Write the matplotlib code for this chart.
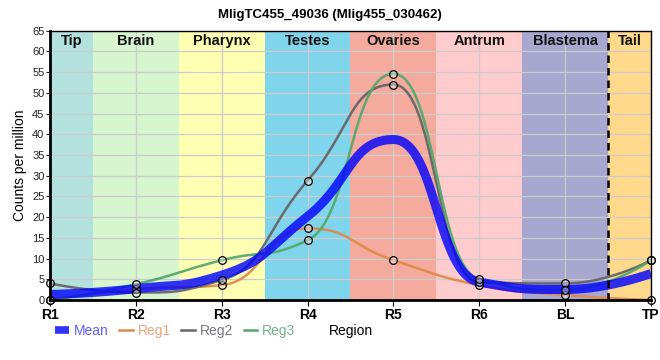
import numpy as np
import matplotlib
matplotlib.use("Agg")
import matplotlib.pyplot as plt
from matplotlib.lines import Line2D

plt.rcParams['font.family'] = ['Liberation Sans', 'DejaVu Sans']

title = "MligTC455_49036 (Mlig455_030462)"
regions = ["R1", "R2", "R3", "R4", "R5", "R6", "BL", "TP"]
reg1 = [0.0, 2.6, 3.6, 17.3, 9.6, 3.6, 1.2, 0.0]
reg2 = [4.0, 1.8, 4.8, 28.8, 52.0, 4.3, 4.0, 9.6]
reg3 = [0.0, 3.8, 9.6, 14.4, 54.6, 5.0, 2.4, 9.6]
band_names = ["Tip", "Brain", "Pharynx", "Testes", "Ovaries", "Antrum", "Blastema", "Tail"]
band_colors = ["#b3e1de", "#d7f5cf", "#ffffb4", "#80d4ec", "#f4aa9c", "#ffcccd", "#a7a7cf", "#ffd98c"]
band_edges = [0, 0.5, 1.5, 2.5, 3.5, 4.5, 5.5, 6.5, 7]


def spline_path(x, y, smoothing=1.0, npts=60):
    """Smooth curve through points with bezier control points (shape preserving)."""
    x = np.asarray(x, float); y = np.asarray(y, float)
    n = len(x); denom = smoothing + 1
    lcx = x.copy(); lcy = y.copy(); rcx = x.copy(); rcy = y.copy()
    for i in range(1, n - 1):
        lx, ly = (smoothing * x[i] + x[i - 1]) / denom, (smoothing * y[i] + y[i - 1]) / denom
        rx, ry = (smoothing * x[i] + x[i + 1]) / denom, (smoothing * y[i] + y[i + 1]) / denom
        corr = 0.0
        if rx != lx:
            corr = (ry - ly) * (rx - x[i]) / (rx - lx) + y[i] - ry
        ly += corr; ry += corr
        if ly > y[i - 1] and ly > y[i]:
            ly = max(y[i - 1], y[i]); ry = 2 * y[i] - ly
        elif ly < y[i - 1] and ly < y[i]:
            ly = min(y[i - 1], y[i]); ry = 2 * y[i] - ly
        if ry > y[i + 1] and ry > y[i]:
            ry = max(y[i + 1], y[i]); ly = 2 * y[i] - ry
        elif ry < y[i + 1] and ry < y[i]:
            ry = min(y[i + 1], y[i]); ly = 2 * y[i] - ry
        lcx[i], lcy[i], rcx[i], rcy[i] = lx, ly, rx, ry
    t = np.linspace(0, 1, npts)[:, None]
    xs, ys = [], []
    for i in range(n - 1):
        P = np.array([[x[i], y[i]], [rcx[i], rcy[i]], [lcx[i + 1], lcy[i + 1]], [x[i + 1], y[i + 1]]])
        B = ((1 - t)**3) * P[0] + 3 * ((1 - t)**2) * t * P[1] + 3 * (1 - t) * t**2 * P[2] + t**3 * P[3]
        xs.append(B[:, 0]); ys.append(B[:, 1])
    return np.concatenate(xs), np.concatenate(ys)


fig = plt.figure(figsize=(6.6, 3.6), dpi=100)
ax = fig.add_axes([50 / 660, 60 / 360, 601 / 660, 269.3 / 360])

xpos = np.arange(len(regions))
for i, name in enumerate(band_names):
    ax.axvspan(band_edges[i], band_edges[i + 1], color=band_colors[i], zorder=0, lw=0)
    ax.text((band_edges[i] + band_edges[i + 1]) / 2, 64.2, name, ha='center', va='top',
            fontsize=10.5, fontweight='bold', color='#111111', zorder=5)

ax.set_xlim(0, 7)
ax.set_ylim(0, 65)
ax.set_yticks(np.arange(0, 66, 5))
ax.set_xticks(xpos)
ax.set_xticklabels(regions, fontweight='bold', fontsize=10)
ax.tick_params(axis='y', labelsize=8, length=3, pad=1, colors='#222222')
ax.tick_params(axis='x', length=4, pad=2)
ax.grid(True, color='#cccccc', lw=0.9, zorder=1)
for gl in ax.get_xgridlines() + ax.get_ygridlines():
    gl.set_zorder(1)

ax.axvline(6.5, color='black', ls=(0, (3, 2)), lw=1.8, zorder=6)

cols = {"Reg1": "#df8a4c", "Reg2": "#666666", "Reg3": "#55a86c"}
for name, vals in [("Reg1", reg1), ("Reg2", reg2), ("Reg3", reg3)]:
    sx, sy = spline_path(xpos, vals)
    ax.plot(sx, sy, color=cols[name], lw=1.8, zorder=3, alpha=0.95)
mean = np.mean([reg1, reg2, reg3], axis=0)
mx, my = spline_path(xpos, mean)
ax.plot(mx, my, color='#0000ff', lw=6.5, alpha=0.8, zorder=4, solid_capstyle='butt')
for vals in [reg1, reg2, reg3]:
    ax.plot(xpos, vals, 'o', ms=5.5, mfc=(1, 1, 1, 0.35), mec='black', mew=0.9,
            zorder=7, clip_on=False, ls='none')

for s in ['left', 'bottom']:
    ax.spines[s].set_linewidth(2)
for s in ['top', 'right']:
    ax.spines[s].set_linewidth(1)
for s in ax.spines.values():
    s.set_zorder(8)

ax.set_ylabel("Counts per million", fontsize=10, labelpad=4)
ax.set_xlabel("Region", fontsize=10, va='center')
ax.xaxis.set_label_coords(0.5, -0.114)
fig.suptitle(title, fontsize=9.5, fontweight='bold', y=0.975)

handles = [Line2D([], [], color='#0000ff', lw=5.5, alpha=0.8, solid_capstyle='butt'),
           Line2D([], [], color=cols["Reg1"], lw=1.8),
           Line2D([], [], color=cols["Reg2"], lw=1.8),
           Line2D([], [], color=cols["Reg3"], lw=1.8)]
leg = fig.legend(handles, ["Mean", "Reg1", "Reg2", "Reg3"], loc='center left',
                 bbox_to_anchor=(0.083, 0.081), ncol=4, frameon=False, fontsize=10,
                 handlelength=1.0, handletextpad=0.35, columnspacing=0.75,
                 borderpad=0, borderaxespad=0)
tcols = ['#6060ff', '#eea478', '#777788', '#70b488']
for t, c in zip(leg.get_texts(), tcols):
    t.set_color(c)

fig.savefig("out.png", dpi=100)
